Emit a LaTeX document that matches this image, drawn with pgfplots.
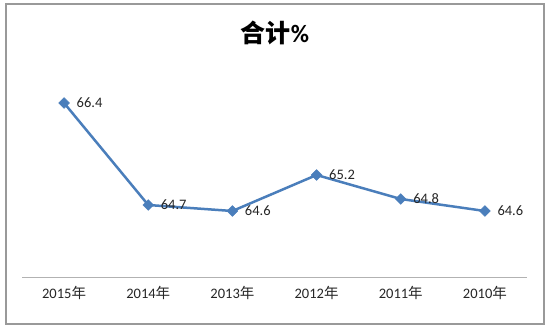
\documentclass[border=0pt]{standalone}
\usepackage{fontspec}
\setmainfont{Carlito}
\newfontfamily\cjk{Noto Sans CJK SC}
\usepackage{pgfplots}
\pgfplotsset{compat=1.18}
\definecolor{lineblue}{HTML}{4A7EBB}
\pgfplotstableread{
x y lab
0 66.4 66.4
1 64.7 64.7
2 64.6 64.6
3 65.2 65.2
4 64.8 64.8
5 64.6 64.6
}\datatable
\begin{document}
\begin{tikzpicture}[x=1bp,y=1bp]
\path[fill=white,use as bounding box] (0,0) rectangle (550,332);
\draw[black!40, line width=1.8bp] (6,8) rectangle (544,328);
\node[font={\fontsize{25bp}{28bp}\selectfont}] at (275,299) {{\cjk\bfseries 合计}\textbf{\%}};
\begin{axis}[
  at={(22bp,55bp)}, anchor=south west,
  width=505bp, height=210bp, scale only axis,
  xmin=-0.5, xmax=5.5, ymin=63.5, ymax=67,
  axis x line*=bottom, axis y line=none,
  x axis line style={black!30, line width=0.8bp, -},
  xtick=data,
  xticklabels={2015{\cjk 年},2014{\cjk 年},2013{\cjk 年},2012{\cjk 年},2011{\cjk 年},2010{\cjk 年}},
  major tick length=0pt,
  ytick=\empty,
  tick label style={font={\fontsize{14.5bp}{17bp}\selectfont}, text=black!85},
  xticklabel style={yshift=-6bp},
  clip=false,
]
\addplot[lineblue, line width=2.5bp, mark=square*, mark size=3.8bp,
  mark options={rotate=45, fill=lineblue, line width=0.5bp},
  nodes near coords, point meta=explicit symbolic,
  every node near coord/.append style={anchor=west, xshift=9bp, yshift=0bp,
    font={\fontsize{14.5bp}{17bp}\selectfont}, text=black!85}]
  table[x=x, y=y, meta=lab] {\datatable};
\end{axis}
\end{tikzpicture}
\end{document}
